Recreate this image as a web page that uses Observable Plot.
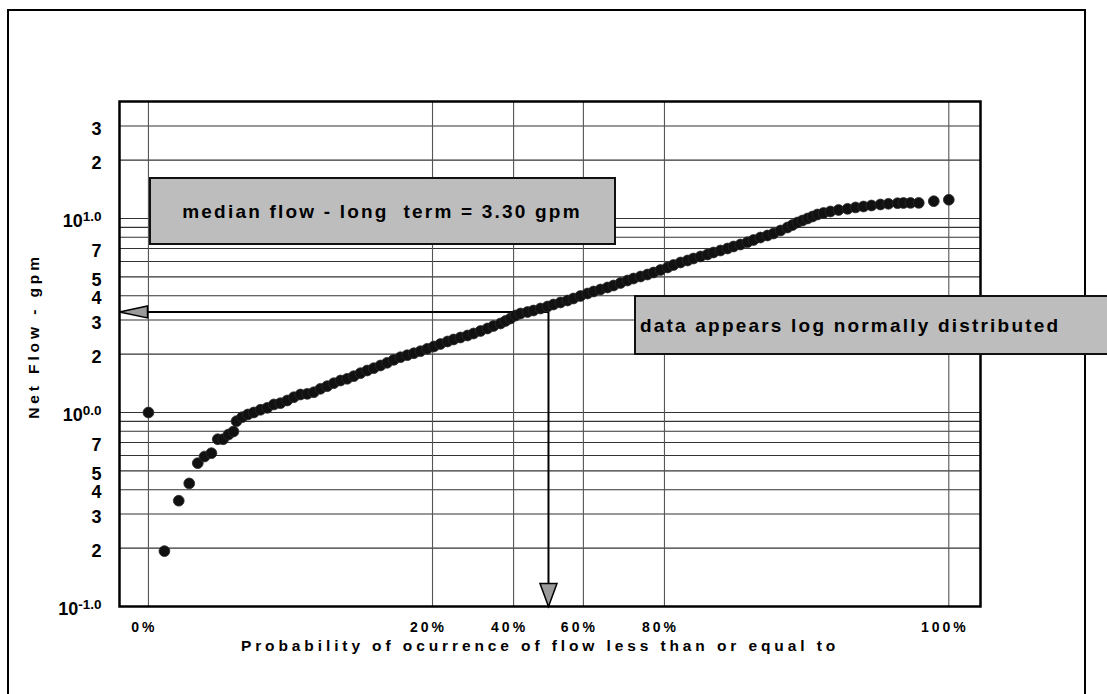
<!DOCTYPE html>
<html><head><meta charset="utf-8">
<script src="https://cdn.jsdelivr.net/npm/d3@7"></script>
<script src="https://cdn.jsdelivr.net/npm/@observablehq/plot@0.6"></script>
<style>
html,body{margin:0;padding:0;background:#fff;}
#chart{position:relative;width:1107px;height:694px;overflow:hidden;}
</style></head><body><div id="chart"></div>
<script>
// Normal score (standard normal quantile of the plotting position) of each observation
const normalScore = [
 -2.903,-2.787,-2.683,-2.607,-2.545,-2.496,-2.446,-2.400,-2.361,-2.322,-2.286,-2.264,
 -2.223,-2.182,-2.139,-2.090,-2.041,-1.993,-1.945,-1.896,-1.848,-1.800,-1.751,-1.703,
 -1.655,-1.606,-1.558,-1.509,-1.461,-1.413,-1.364,-1.316,-1.268,-1.219,-1.171,-1.123,
 -1.074,-1.025,-0.977,-0.929,-0.880,-0.832,-0.784,-0.733,-0.689,-0.639,-0.588,-0.544,
 -0.493,-0.443,-0.399,-0.348,-0.312,-0.276,-0.239,-0.203,-0.152,-0.109,-0.058,-0.007,
 0.036,0.087,0.138,0.181,0.232,0.283,0.327,0.377,0.428,0.472,0.523,0.573,
 0.617,0.668,0.718,0.762,0.813,0.864,0.907,0.958,1.009,1.052,1.103,1.154,
 1.197,1.248,1.299,1.343,1.393,1.444,1.488,1.538,1.589,1.633,1.684,1.734,
 1.771,1.807,1.843,1.880,1.916,1.952,1.996,2.046,2.105,2.170,2.228,2.286,
 2.344,2.409,2.467,2.533,2.576,2.627,2.687,2.796,2.905
];
// Net flow (gpm) of each observation
const netFlow = [
 1.00,0.193,0.351,0.431,0.548,0.593,0.617,0.728,0.728,0.770,0.798,0.902,
 0.946,0.977,1.00,1.033,1.057,1.100,1.117,1.153,1.199,1.238,1.248,1.272,
 1.325,1.367,1.416,1.462,1.492,1.539,1.595,1.646,1.692,1.747,1.804,1.869,
 1.928,1.974,2.021,2.070,2.130,2.189,2.255,2.323,2.379,2.436,2.494,2.554,
 2.631,2.710,2.792,2.876,2.963,3.052,3.162,3.238,3.296,3.355,3.436,3.519,
 3.603,3.690,3.779,3.870,3.986,4.106,4.205,4.305,4.409,4.514,4.651,4.790,
 4.905,5.023,5.144,5.267,5.427,5.590,5.759,5.933,6.075,6.221,6.371,6.524,
 6.680,6.841,7.005,7.173,7.345,7.548,7.749,7.980,8.173,8.370,8.672,8.986,
 9.258,9.537,9.765,10.00,10.24,10.49,10.68,10.87,11.06,11.22,11.40,11.53,
 11.67,11.81,11.91,11.99,12.02,12.04,12.04,12.28,12.49
];
const xTickScores = [-2.903, -0.8416, -0.2533, 0.2533, 0.8416, 2.905];
const xTickLabels = ["0%","20%","40%","60%","80%","100%"];
const yTickValues = [0.1,0.2,0.3,0.4,0.5,0.7,1,2,3,4,5,7,10,20,30];
const yTickLabels = ["10^-1.0","2","3","4","5","7","10^0.0","2","3","4","5","7","10^1.0","2","3"];
const yGridValues = [0.2,0.3,0.4,0.5,0.6,0.7,0.8,0.9,1,2,3,4,5,6,7,8,9,10,20,30];
const medianFlow = 3.30;
const medianScore = 0;
const xDomain = [-3.113, 3.135];
const yDomain = [0.1, 40.1];
const medianNote = "median flow - long  term = 3.30 gpm";
const distNote = "data appears log normally distributed";
const xTitle = "Probability of ocurrence of flow less than or equal to";
const yTitle = "Net Flow - gpm";

const FONT = '"Liberation Sans", Arial, Helvetica, sans-serif';
const points = normalScore.map((z, i) => ({z, q: netFlow[i]}));
const yTicks = yTickValues.map((v, i) => ({v, label: yTickLabels[i]}));

const arrowLeft = {draw(ctx) { ctx.moveTo(0, 0); ctx.lineTo(28, -6); ctx.lineTo(28, 6); ctx.closePath(); }};
const arrowDown = {draw(ctx) { ctx.moveTo(0, 0); ctx.lineTo(-8.5, -23); ctx.lineTo(8.5, -23); ctx.closePath(); }};

const plot = Plot.plot({
  width: 1107, height: 694,
  marginLeft: 119, marginRight: 127, marginTop: 101, marginBottom: 88,
  style: {fontFamily: FONT, background: "transparent", overflow: "visible", color: "#000"},
  x: {domain: xDomain, axis: null},
  y: {type: "log", domain: yDomain, axis: null},
  marks: [
    Plot.ruleY(yGridValues, {stroke: "#333", strokeWidth: 1.1}),
    Plot.ruleX(xTickScores, {stroke: "#555", strokeWidth: 1.1}),
    Plot.ruleY([medianFlow], {x1: medianScore, x2: xDomain[0], stroke: "#000", strokeWidth: 2}),
    Plot.ruleX([medianScore], {y1: yDomain[0], y2: medianFlow, stroke: "#000", strokeWidth: 2}),
    Plot.dot(points, {x: "z", y: "q", r: 5.4, fill: "#111", stroke: "#2a2a2a", strokeWidth: 0.8}),
    Plot.dot([{z: xDomain[0], q: medianFlow}], {x: "z", y: "q", symbol: arrowLeft, r: 5, fill: "#9a9a9a", stroke: "#000", strokeWidth: 1.5}),
    Plot.dot([{z: medianScore, q: yDomain[0]}], {x: "z", y: "q", symbol: arrowDown, r: 5, fill: "#9a9a9a", stroke: "#000", strokeWidth: 1.5}),
    Plot.frame({stroke: "#000", strokeWidth: 2.5}),
    Plot.text(yTicks, {y: "v", text: "label", frameAnchor: "left", textAnchor: "end", dx: -18, dy: 3, fontSize: 18, fontWeight: "bold", fill: "#000"}),
    Plot.text(xTickScores, {x: d => d, text: d => xTickLabels[xTickScores.indexOf(d)], frameAnchor: "bottom", lineAnchor: "middle", dy: 21, dx: -4, fontSize: 14, fontWeight: "bold", fill: "#000"}),
    Plot.text([xTitle], {frameAnchor: "bottom", textAnchor: "middle", lineAnchor: "middle", dy: 40, dx: -10, fontSize: 15.5, fontWeight: "bold", fill: "#000"}),
    Plot.text([yTitle], {frameAnchor: "left", textAnchor: "middle", lineAnchor: "middle", rotate: -90, dx: -85, dy: -18, fontSize: 15.5, fontWeight: "bold", fill: "#000"})
  ]
});

const svg = d3.select(plot);
svg.selectAll("text").each(function() {
  const t = this.textContent;
  const sel = d3.select(this);
  if (t.includes("^")) {
    const [base, exp] = t.split("^");
    sel.text(null);
    sel.append("tspan").text(base);
    sel.append("tspan").attr("dy", "-0.45em").attr("font-size", "13.5px").text(exp);
  } else if (xTickLabels.includes(t)) {
    sel.style("letter-spacing", "3px");
  } else if (t === xTitle || t === yTitle) {
    sel.style("letter-spacing", "3.9px");
  }
});

// outer border
svg.append("rect").attr("x", 8).attr("y", 10).attr("width", 1077).attr("height", 720)
  .attr("fill", "none").attr("stroke", "#000").attr("stroke-width", 2);

// annotation boxes
function note(x, y, w, h, label, tx, anchor) {
  const g = svg.append("g");
  g.append("rect").attr("x", x).attr("y", y).attr("width", w).attr("height", h)
    .attr("fill", "#bdbdbd").attr("stroke", "#111").attr("stroke-width", 2);
  g.append("text").attr("x", tx).attr("y", y + h / 2).attr("dy", "0.36em")
    .attr("text-anchor", anchor).attr("font-family", FONT).attr("font-weight", "bold")
    .attr("font-size", 19).style("letter-spacing", "2.2px").style("white-space", "pre")
    .attr("fill", "#000").text(label);
}
note(150, 178, 465, 66, medianNote, 382, "middle");
note(635, 296, 500, 58, distNote, 640, "start");

document.getElementById("chart").appendChild(plot);
</script>
</body></html>
